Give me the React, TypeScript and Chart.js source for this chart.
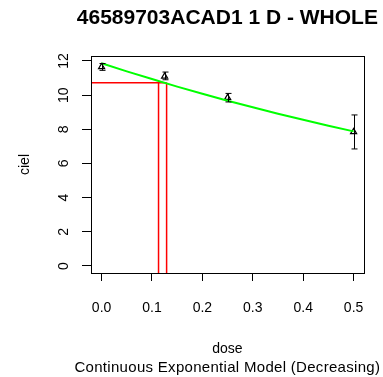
import { useEffect, useRef } from "react";
import { Chart, registerables } from "chart.js";

Chart.register(...registerables);

// ---- data ----
const doses = [0, 0.125, 0.25, 0.5];
const means = [11.65, 11.1, 9.85, 7.85];
const errLow = [11.45, 10.9, 9.6, 6.85];
const errHigh = [11.85, 11.35, 10.1, 8.84];

const curveDose = [0, 0.05, 0.1, 0.15, 0.2, 0.25, 0.3, 0.35, 0.4, 0.45, 0.5];
const curveMean = [11.87, 11.39, 10.94, 10.5, 10.08, 9.67, 9.29, 8.91, 8.56, 8.21, 7.88];

const bmrLevel = 10.73;
const bmdlValue = 0.113;
const bmdValue = 0.129;

const xTicks = [0, 0.1, 0.2, 0.3, 0.4, 0.5];
const yTicks = [0, 2, 4, 6, 8, 10, 12];

const X_MIN = -0.021;
const X_MAX = 0.52;
const Y_MIN = -0.41;
const Y_MAX = 12.29;

const titleText = "46589703ACAD1 1 D - WHOLE";
const xTitle = "dose";
const subTitle = "Continuous Exponential Model (Decreasing)";
const yTitle = "ciel";

const FONT = "'Liberation Sans', Arial, sans-serif";

export default function App() {
  const ref = useRef<HTMLCanvasElement | null>(null);

  useEffect(() => {
    if (!ref.current) return;

    const decor = {
      id: "decor",
      afterDatasetsDraw(chart: any) {
        const { ctx, chartArea, scales } = chart;
        const xs = scales.x;
        const ys = scales.y;
        ctx.save();
        // error bars
        ctx.strokeStyle = "#000";
        ctx.lineWidth = 1;
        for (let i = 0; i < doses.length; i++) {
          const px = Math.round(xs.getPixelForValue(doses[i])) + 0.5;
          const y1 = ys.getPixelForValue(errLow[i]);
          const y2 = ys.getPixelForValue(errHigh[i]);
          ctx.beginPath();
          ctx.moveTo(px, y1);
          ctx.lineTo(px, y2);
          ctx.moveTo(px - 3, y1);
          ctx.lineTo(px + 3, y1);
          ctx.moveTo(px - 3, y2);
          ctx.lineTo(px + 3, y2);
          ctx.stroke();
        }
        // box
        ctx.strokeStyle = "#000";
        ctx.lineWidth = 1;
        ctx.strokeRect(
          Math.round(chartArea.left) + 0.5,
          Math.round(chartArea.top) + 0.5,
          Math.round(chartArea.right - chartArea.left),
          Math.round(chartArea.bottom - chartArea.top)
        );
        ctx.restore();
      },
      afterDraw(chart: any) {
        const { ctx, chartArea } = chart;
        const cx = (chartArea.left + chartArea.right) / 2;
        const cy = (chartArea.top + chartArea.bottom) / 2;
        ctx.save();
        ctx.fillStyle = "#000";
        ctx.textAlign = "center";
        ctx.textBaseline = "middle";
        ctx.font = `bold 21px ${FONT}`;
        ctx.fillText(titleText, cx, 18);
        ctx.font = `14px ${FONT}`;
        ctx.fillText(xTitle, cx, 349);
        ctx.font = `15px ${FONT}`;
        try {
          (ctx as any).letterSpacing = "0.3px";
        } catch (e) {}
        ctx.fillText(subTitle, cx, 368);
        try {
          (ctx as any).letterSpacing = "0px";
        } catch (e) {}
        ctx.font = `14px ${FONT}`;
        ctx.translate(25, cy);
        ctx.rotate(-Math.PI / 2);
        ctx.fillText(yTitle, 0, 0);
        ctx.restore();
      },
    };

    const chart = new Chart(ref.current, {
      type: "scatter",
      data: {
        datasets: [
          {
            type: "line",
            data: curveDose.map((d, i) => ({ x: d, y: curveMean[i] })),
            borderColor: "#00ff00",
            borderWidth: 2,
            pointRadius: 0,
            fill: false,
            tension: 0,
          },
          {
            type: "line",
            data: [
              { x: X_MIN, y: bmrLevel },
              { x: bmdValue, y: bmrLevel },
            ],
            borderColor: "#ff0000",
            borderWidth: 1.5,
            pointRadius: 0,
            fill: false,
          },
          {
            type: "line",
            data: [
              { x: bmdlValue, y: Y_MIN },
              { x: bmdlValue, y: bmrLevel },
            ],
            borderColor: "#ff0000",
            borderWidth: 1.5,
            pointRadius: 0,
            fill: false,
          },
          {
            type: "line",
            data: [
              { x: bmdValue, y: Y_MIN },
              { x: bmdValue, y: bmrLevel },
            ],
            borderColor: "#ff0000",
            borderWidth: 1.5,
            pointRadius: 0,
            fill: false,
          },
          {
            type: "scatter",
            data: doses.map((d, i) => ({ x: d, y: means[i] })),
            pointStyle: "triangle",
            pointRadius: 3.5,
            borderColor: "#000",
            backgroundColor: "rgba(0,0,0,0)",
            borderWidth: 1.2,
          },
        ],
      },
      options: {
        animation: false,
        responsive: false,
        maintainAspectRatio: false,
        devicePixelRatio: 1,
        layout: { padding: { left: 0, right: 18, top: 56, bottom: 0 } },
        plugins: {
          legend: { display: false },
          tooltip: { enabled: false },
          title: { display: false },
        },
        scales: {
          x: {
            type: "linear",
            min: X_MIN,
            max: X_MAX,
            afterBuildTicks: (s: any) => {
              s.ticks = xTicks.map((v) => ({ value: v }));
            },
            afterFit: (s: any) => {
              s.height = 104;
            },
            grid: {
              drawOnChartArea: false,
              drawTicks: true,
              tickLength: 8,
              color: "#000",
              lineWidth: 1,
            },
            border: { display: true, color: "#000", width: 1 },
            ticks: {
              color: "#000",
              padding: 19,
              maxRotation: 0,
              minRotation: 0,
              font: { family: FONT, size: 14 },
              callback: (v: any) => Number(v).toFixed(1),
            },
          },
          y: {
            type: "linear",
            min: Y_MIN,
            max: Y_MAX,
            afterBuildTicks: (s: any) => {
              s.ticks = yTicks.map((v) => ({ value: v }));
            },
            afterFit: (s: any) => {
              s.width = 91;
            },
            grid: {
              drawOnChartArea: false,
              drawTicks: true,
              tickLength: 9,
              color: "#000",
              lineWidth: 1,
            },
            border: { display: true, color: "#000", width: 1 },
            ticks: {
              color: "#000",
              padding: 10,
              minRotation: 90,
              maxRotation: 90,
              crossAlign: "center",
              font: { family: FONT, size: 14 },
              callback: (v: any) => String(v),
            },
          },
        },
      },
      plugins: [decor],
    } as any);

    return () => chart.destroy();
  }, []);

  return (
    <div style={{ position: "fixed", left: 0, top: 0, width: 383, height: 377, background: "#fff" }}>
      <canvas ref={ref} width={383} height={377} style={{ width: 383, height: 377, display: "block" }} />
    </div>
  );
}
